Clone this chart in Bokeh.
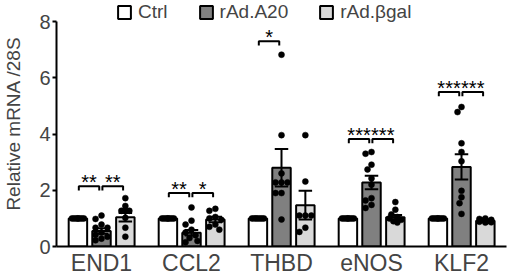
from bokeh.plotting import figure
from bokeh.models import Range1d, FixedTicker, Legend, LegendItem
from bokeh.embed import file_html
from bokeh.resources import INLINE
from bokeh.core.properties import value

# ---------------- data ----------------
genes = ["END1", "CCL2", "THBD", "eNOS", "KLF2"]
groups = ["Ctrl", "rAd.A20", "rAd.\u03b2gal"]

ctrl_mean = [1.0, 1.0, 1.0, 1.0, 1.0]
a20_mean = [0.55, 0.49, 2.80, 2.28, 2.83]
bgal_mean = [1.04, 0.96, 1.47, 1.04, 0.92]

ctrl_sem = [0.0, 0.0, 0.0, 0.0, 0.0]
a20_sem = [0.10, 0.10, 0.67, 0.24, 0.45]
bgal_sem = [0.15, 0.10, 0.51, 0.08, 0.03]

ctrl_pts = [
    [1.0, 1.0, 1.0, 1.0, 1.0, 1.0, 1.0, 1.0],
    [1.0, 1.0, 1.0, 1.0, 1.0, 1.0, 1.0, 1.0],
    [1.0, 1.0, 1.0, 1.0, 1.0, 1.0, 1.0],
    [1.0, 1.0, 1.0, 1.0, 1.0, 1.0, 1.0, 1.0],
    [1.0, 1.0, 1.0, 1.0, 1.0, 1.0, 1.0, 1.0],
]
a20_pts = [
    [1.10, 0.98, 0.78, 0.67, 0.67, 0.50, 0.42, 0.35, 0.28, 0.22],
    [1.39, 0.92, 0.78, 0.60, 0.50, 0.40, 0.30, 0.20, 0.15],
    [6.82, 3.96, 2.60, 2.28, 2.28, 2.28, 1.90, 1.90, 0.96],
    [3.36, 3.30, 2.91, 2.74, 2.42, 2.20, 1.72, 1.64, 1.48, 1.37],
    [4.96, 4.78, 3.67, 3.36, 3.03, 1.98, 1.75, 1.54, 1.16],
]
bgal_pts = [
    [1.72, 1.44, 1.27, 1.27, 1.27, 1.02, 0.67, 0.35],
    [1.34, 1.27, 1.05, 1.00, 0.95, 0.78, 0.70, 0.60],
    [3.96, 2.31, 1.10, 1.10, 1.10, 0.67, 0.52],
    [1.58, 1.31, 1.14, 1.05, 1.00, 0.95, 0.90, 0.85],
    [1.00, 0.98, 0.95, 0.93, 0.90, 0.88, 0.86, 0.85],
]

# significance: gene, left group, right group, height, label
sig_gene = ["END1", "END1", "CCL2", "CCL2", "THBD", "eNOS", "eNOS", "KLF2", "KLF2"]
sig_left = [0, 1, 0, 1, 0, 0, 1, 0, 1]
sig_right = [1, 2, 1, 2, 1, 1, 2, 1, 2]
sig_y = [2.14, 2.14, 1.90, 1.90, 7.30, 3.82, 3.82, 5.49, 5.49]
sig_label = ["**", "**", "**", "*", "*", "***", "***", "***", "***"]

y_ticks = [0, 2, 4, 6, 8]

# ---------------- styling / layout ----------------
FONT = "Liberation Sans"
W, H = 510, 279
BL, BR, BT, BB = 53, 4, 0, 33
FRAME_W = W - BL - BR
FRAME_H = H - BT - BB
PX_Y = (FRAME_H - 21) / 8.0
Y_TOP = FRAME_H / PX_Y
PX_X = FRAME_W / 5.0
LEG_H = 22

offsets = [-0.262, 0.0, 0.265]
colors = ["white", "#808080", "#d9d9d9"]
BAR_W = 0.205

p = figure(width=W, height=H, output_backend="svg", toolbar_location=None,
           x_range=Range1d(0, 5), y_range=Range1d(0, Y_TOP),
           min_border_left=BL, min_border_right=BR,
           min_border_top=BT, min_border_bottom=BB)
p.outline_line_color = None
p.grid.visible = False

means = [ctrl_mean, a20_mean, bgal_mean]
sems = [ctrl_sem, a20_sem, bgal_sem]
pts = [ctrl_pts, a20_pts, bgal_pts]

bar_renderers = []
for g in range(3):
    xs = [i + 0.5 + offsets[g] for i in range(len(genes))]
    r = p.vbar(x=xs, top=means[g], bottom=0, width=BAR_W,
               fill_color=colors[g], line_color="black", line_width=2)
    bar_renderers.append(r)


def swarm(values, center):
    """Simple bounded beeswarm, returns x positions in data units."""
    diam = 6.0
    lim = BAR_W * PX_X / 2 - 3.0
    cands = [0.0]
    step = 2.0
    k = 1
    while k * step <= lim + 1e-9:
        cands += [-k * step, k * step]
        k += 1
    placed = []
    out = []
    for v in values:
        vy = v * PX_Y
        best = None
        best_d = -1
        for c in cands:
            dmin = min([((c - px) ** 2 + (vy - py) ** 2) ** 0.5 for px, py in placed] or [99.0])
            if dmin >= diam:
                best = c
                break
            if dmin > best_d:
                best_d = dmin
                best = c
        placed.append((best, vy))
        out.append(center + best / PX_X)
    return out


dot_x, dot_y = [], []
for g in range(3):
    for i in range(len(genes)):
        c = i + 0.5 + offsets[g]
        dot_x += swarm(pts[g][i], c)
        dot_y += pts[g][i]
p.scatter(x=dot_x, y=dot_y, size=6, marker="circle",
          fill_color="black", line_color="black", line_width=0.5)

# error bars
CAP = 0.15
ex, e0, e1 = [], [], []
cx0, cx1, cy = [], [], []
for g in range(3):
    for i in range(len(genes)):
        s = sems[g][i]
        if s <= 0:
            continue
        c = i + 0.5 + offsets[g]
        m = means[g][i]
        ex.append(c); e0.append(m - s); e1.append(m + s)
        for yy in (m - s, m + s):
            cx0.append(c - CAP / 2); cx1.append(c + CAP / 2); cy.append(yy)
p.segment(x0=ex, y0=e0, x1=ex, y1=e1, line_color="black", line_width=2)
p.segment(x0=cx0, y0=cy, x1=cx1, y1=cy, line_color="black", line_width=2)

# significance brackets
TICK = 0.15
bxs, bys, tx, ty = [], [], [], []
for gname, a, b, yv in zip(sig_gene, sig_left, sig_right, sig_y):
    i = genes.index(gname)
    x1 = i + 0.5 + offsets[a] + 0.01
    x2 = i + 0.5 + offsets[b] - 0.025
    bxs.append([x1, x1, x2, x2])
    bys.append([yv - TICK, yv, yv, yv - TICK])
    tx.append((x1 + x2) / 2)
    ty.append(yv)
p.multi_line(xs=bxs, ys=bys, line_color="black", line_width=2)
p.text(x=tx, y=ty, text=sig_label, text_align="center", text_baseline="middle",
       y_offset=-4, text_font=value(FONT), text_font_size="20px", text_color="black")

# axes
p.yaxis.ticker = FixedTicker(ticks=y_ticks)
p.yaxis.bounds = (0, 8)
p.yaxis.axis_label = "Relative mRNA /28S"
p.yaxis.axis_label_text_font = FONT
p.yaxis.axis_label_text_font_size = "19px"
p.yaxis.axis_label_text_font_style = "normal"
p.yaxis.axis_label_standoff = 12
p.yaxis.major_label_text_font = FONT
p.yaxis.major_label_text_font_size = "20px"
p.yaxis.major_label_standoff = 2
p.yaxis.major_tick_out = 4
p.yaxis.major_tick_in = 0
p.yaxis.minor_tick_out = 0
p.yaxis.minor_tick_in = 0
p.yaxis.axis_line_width = 2
p.yaxis.major_tick_line_width = 2

p.xaxis.ticker = FixedTicker(ticks=[i + 0.5 for i in range(len(genes))])
p.xaxis.major_label_overrides = {i + 0.5: gname for i, gname in enumerate(genes)}
p.xaxis.major_label_text_font = FONT
p.xaxis.major_label_text_font_size = "23px"
p.xaxis.major_label_standoff = 3
p.xaxis.major_tick_out = 0
p.xaxis.major_tick_in = 0
p.xaxis.minor_tick_out = 0
p.xaxis.minor_tick_in = 0
p.xaxis.axis_line_width = 2

# legend
legend = Legend(items=[LegendItem(label=groups[g], renderers=[bar_renderers[g]]) for g in range(3)],
                orientation="horizontal", location=(60, FRAME_H - 12 - LEG_H // 2),
                glyph_width=16, glyph_height=16, label_standoff=6, spacing=30,
                padding=0, margin=0, border_line_color=None, background_fill_alpha=0,
                label_text_font=FONT, label_text_font_size="19px")
p.add_layout(legend)

open("out.html", "w").write(file_html(p, INLINE))
